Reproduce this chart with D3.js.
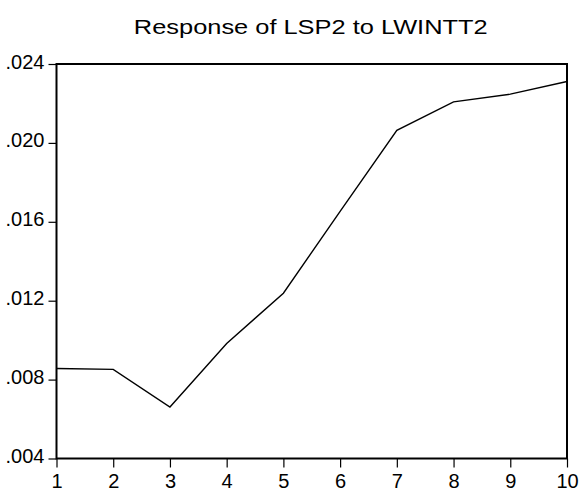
<!DOCTYPE html>
<html>
<head>
<meta charset="utf-8">
<script src="https://cdn.jsdelivr.net/npm/d3@7"></script>
<style>
  body { margin: 0; background: #fff; }
  text { font-family: "Liberation Sans", Arial, sans-serif; fill: #000; }
</style>
</head>
<body>
<svg id="chart" width="580" height="495"></svg>
<script>
// response horizon (periods)
const periods = [1, 2, 3, 4, 5, 6, 7, 8, 9, 10];
// response of LSP2 to LWINTT2
const response = [0.00856, 0.00852, 0.00661, 0.00983, 0.01238, 0.01653, 0.02064, 0.02208, 0.02247, 0.02311];
// y tick values and their labels
const yTicks = [0.004, 0.008, 0.012, 0.016, 0.020, 0.024];
const yTickLabels = [".004", ".008", ".012", ".016", ".020", ".024"];

const margin = { top: 64, right: 13, bottom: 36.5, left: 56.5 };

let svg = d3.select("#chart");
let width = +svg.attr("width");
let height = +svg.attr("height");
let plotWidth = width - margin.left - margin.right;
let plotHeight = height - margin.top - margin.bottom;

let xScale = d3.scaleLinear()
  .domain([1, 10])
  .range([0, plotWidth]);

let yScale = d3.scaleLinear()
  .domain([0.004, 0.024])
  .range([plotHeight, 0]);

let plot = svg.append("g")
  .attr("transform", "translate(" + margin.left + "," + margin.top + ")");

// frame
plot.append("rect")
  .attr("x", 0)
  .attr("y", 0)
  .attr("width", plotWidth)
  .attr("height", plotHeight)
  .attr("fill", "none")
  .attr("stroke", "#000")
  .attr("stroke-width", 2);

// y axis
let yAxis = d3.axisLeft(yScale)
  .tickValues(yTicks)
  .tickFormat((d, i) => yTickLabels[i])
  .tickSizeInner(8)
  .tickSizeOuter(0)
  .tickPadding(4);

let yG = plot.append("g").call(yAxis);
yG.select(".domain").remove();
yG.selectAll("line").attr("stroke", "#000").attr("stroke-width", 1.2);
yG.selectAll("text")
  .attr("font-size", "20px")
  .attr("dy", "0.2em");

// x axis
let xAxis = d3.axisBottom(xScale)
  .tickValues(periods)
  .tickFormat(d3.format("d"))
  .tickSizeInner(9)
  .tickSizeOuter(0)
  .tickPadding(6);

let xG = plot.append("g")
  .attr("transform", "translate(0," + plotHeight + ")")
  .call(xAxis);
xG.select(".domain").remove();
xG.selectAll("line").attr("stroke", "#000").attr("stroke-width", 1.2);
xG.selectAll("text").attr("font-size", "20px");

// response line
let line = d3.line()
  .x((d, i) => xScale(periods[i]))
  .y(d => yScale(d));

plot.append("path")
  .datum(response)
  .attr("d", line)
  .attr("fill", "none")
  .attr("stroke", "#000")
  .attr("stroke-width", 1.4);

// title (glyphs are a bit wide in the original, so stretch horizontally)
svg.append("text")
  .attr("transform", "translate(" + (margin.left + plotWidth / 2 - 1) + ",33.5) scale(1.21,1)")
  .attr("text-anchor", "middle")
  .attr("font-size", "21px")
  .text("Response of LSP2 to LWINTT2");
</script>
</body>
</html>
